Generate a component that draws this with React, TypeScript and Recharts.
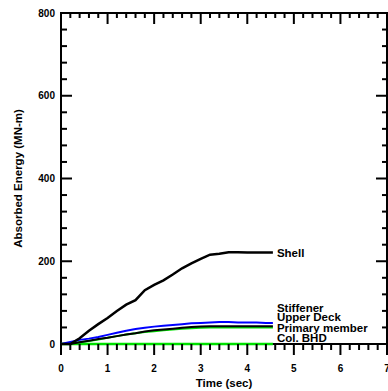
import { LineChart, Line, XAxis, YAxis, LabelList, ReferenceArea, ReferenceLine } from 'recharts';

// time (sec)
const times = [0, 0.2, 0.4, 0.6, 0.8, 1.0, 1.2, 1.4, 1.6, 1.8, 2.0, 2.2, 2.4, 2.6, 2.8, 3.0, 3.2, 3.4, 3.6, 3.8, 4.0, 4.2, 4.4, 4.55];

// absorbed energy (MN-m)
const shell = [0, 0, 14, 32, 48, 63, 80, 95, 106, 130, 143, 154, 168, 183, 195, 206, 216, 218, 222, 222, 221, 221, 221, 221];
const stiffener = [0, 5, 10, 13, 17, 22, 27, 32, 36, 39, 42, 44, 46, 48, 50, 51, 52, 53, 53, 52, 52, 52, 51, 51];
const upperDeck = [0, 0, 4, 8, 12, 15, 19, 23, 26, 30, 33, 35, 37, 39, 41, 42, 43, 43, 43, 43, 43, 43, 43, 43];
const primaryMember = [0, 1, 4, 7, 11, 15, 19, 23, 26, 29, 31, 33, 35, 37, 38, 39, 40, 40, 40, 40, 40, 40, 40, 40];
const colBhd = [0, 0, 0, 0, 0, 0, 0, 0, 0, 0, 0, 0, 0, 0, 0, 0, 0, 0, 0, 0, 0, 0, 0, 0];

const xTickLabels = [0, 1, 2, 3, 4, 5, 6, 7];
const yTickLabels = [0, 200, 400, 600, 800];
const xMinorTicks = Array.from({ length: 36 }, (_, i) => +(i * 0.2).toFixed(1));
const yMinorTicks = Array.from({ length: 21 }, (_, i) => i * 40);

const data = times.map((t, i) => ({
  t,
  shell: shell[i],
  stiffener: stiffener[i],
  upperDeck: upperDeck[i],
  primaryMember: primaryMember[i],
  colBhd: colBhd[i],
}));

const W = 388;
const H = 391;
const M = { top: 13, right: 1, bottom: 47, left: 61 };
// one pixel in axis units, used for tick lengths
const PX_X = 7 / (W - M.left - M.right);
const PX_Y = 800 / (H - M.top - M.bottom);

const FONT = '"Liberation Sans", Arial, sans-serif';
const last = times.length - 1;
const tickFont = { fill: '#000', fontFamily: FONT, fontWeight: 'bold', fontSize: 10 };

const isMajor = (v: number, labels: number[]) => labels.some((l) => Math.abs(l - v) < 1e-6);

// tick marks: bottom ones point out, the others point in
const tickSegments: { x1: number; y1: number; x2: number; y2: number }[] = [];
xMinorTicks.forEach((v) => {
  const big = isMajor(v, xTickLabels);
  tickSegments.push({ x1: v, y1: 0, x2: v, y2: -(big ? 11 : 6) * PX_Y });
  tickSegments.push({ x1: v, y1: 800, x2: v, y2: 800 - (big ? 11 : 5) * PX_Y });
});
yMinorTicks.forEach((v) => {
  const big = isMajor(v, yTickLabels);
  tickSegments.push({ x1: 0, y1: v, x2: (big ? 11 : 6) * PX_X, y2: v });
  tickSegments.push({ x1: 7, y1: v, x2: 7 - (big ? 11 : 5) * PX_X, y2: v });
});

// name label at the end of each curve
const endLabel = (text: string, dy: number) => (props: any) => {
  if (props.index !== last) return null;
  return (
    <text x={Number(props.x) + 4} y={Number(props.y) + dy} dominantBaseline="central" fontFamily={FONT} fontWeight="bold" fontSize={11.5} fill="#000">
      {text}
    </text>
  );
};

export default function App() {
  return (
    <div style={{ position: 'absolute', left: 0, top: 0, background: '#fff' }}>
      <LineChart width={W} height={H} data={data} margin={{ top: M.top, right: M.right, bottom: 0, left: 0 }}>
        <XAxis
          dataKey="t"
          type="number"
          domain={[0, 7]}
          ticks={xTickLabels}
          interval={0}
          height={M.bottom}
          tickSize={0}
          tickMargin={21}
          tickLine={false}
          axisLine={false}
          tick={tickFont}
          label={{ value: 'Time (sec)', position: 'insideBottom', offset: 4, fill: '#000', fontFamily: FONT, fontWeight: 'bold', fontSize: 11.5 }}
        />
        <YAxis
          type="number"
          domain={[0, 800]}
          ticks={yTickLabels}
          interval={0}
          width={M.left}
          tickSize={0}
          tickMargin={6}
          tickLine={false}
          axisLine={false}
          tick={tickFont}
          label={{ value: 'Absorbed Energy (MN-m)', angle: -90, position: 'insideLeft', offset: 18, fill: '#000', fontFamily: FONT, fontWeight: 'bold', fontSize: 11.5, style: { textAnchor: 'middle' } }}
        />

        {/* plot frame */}
        <ReferenceArea x1={0} x2={7} y1={0} y2={800} fill="none" stroke="#000" strokeWidth={2} ifOverflow="visible" />

        <Line dataKey="colBhd" stroke="#00e000" strokeWidth={2.5} dot={false} isAnimationActive={false}>
          <LabelList dataKey="colBhd" content={endLabel('Col. BHD', -6)} />
        </Line>
        <Line dataKey="primaryMember" stroke="#00e000" strokeWidth={2} dot={false} isAnimationActive={false}>
          <LabelList dataKey="primaryMember" content={endLabel('Primary member', 1)} />
        </Line>
        <Line dataKey="upperDeck" stroke="#000" strokeWidth={2} dot={false} isAnimationActive={false}>
          <LabelList dataKey="upperDeck" content={endLabel('Upper Deck', -9)} />
        </Line>
        <Line dataKey="stiffener" stroke="#0000ff" strokeWidth={2} dot={false} isAnimationActive={false}>
          <LabelList dataKey="stiffener" content={endLabel('Stiffener', -15)} />
        </Line>
        <Line dataKey="shell" stroke="#000" strokeWidth={2.5} dot={false} isAnimationActive={false}>
          <LabelList dataKey="shell" content={endLabel('Shell', 0)} />
        </Line>

        {tickSegments.map((s, i) => (
          <ReferenceLine
            key={`tk-${i}`}
            segment={[{ x: s.x1, y: s.y1 }, { x: s.x2, y: s.y2 }]}
            stroke="#000"
            strokeWidth={2}
            ifOverflow="visible"
          />
        ))}
      </LineChart>
    </div>
  );
}
